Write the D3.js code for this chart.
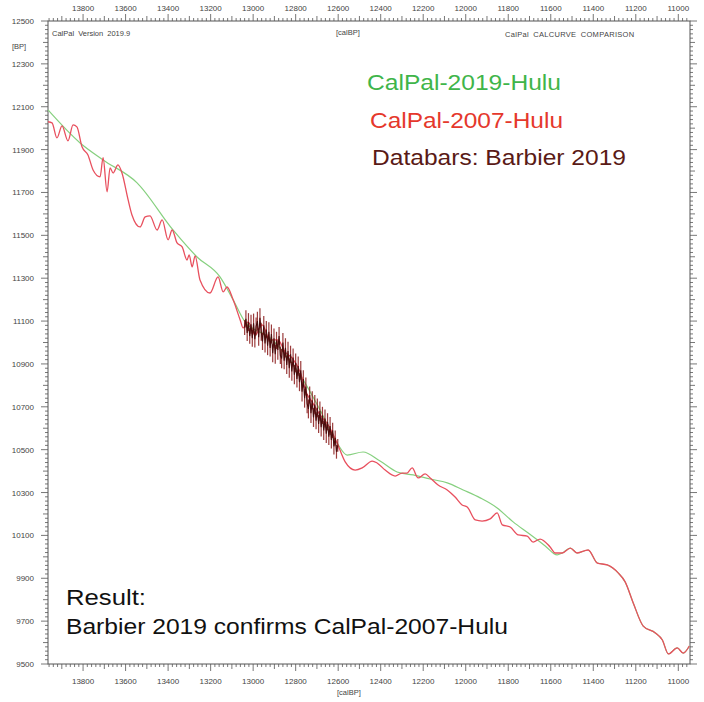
<!DOCTYPE html>
<html><head><meta charset="utf-8">
<script src="https://cdn.jsdelivr.net/npm/d3@7"></script>
<style>body{margin:0;background:#fff}svg{display:block}text{font-family:"Liberation Sans",Arial,sans-serif}</style>
</head><body>
<svg id="c" width="704" height="702"></svg>
<script>
// CalPal-2007-Hulu [calBP, BP]
const red2007 = [[13965,12030],[13946,12025],[13923,11955],[13899,12011],[13871,11941],[13847,12015],[13829,12006],[13805,11913],[13777,11875],[13753,11805],[13720,11773],[13706,11862],[13687,11703],[13673,11815],[13659,11791],[13636,11829],[13617,11791],[13588,11665],[13570,11595],[13532,11539],[13508,11586],[13485,11591],[13452,11525],[13428,11572],[13400,11479],[13381,11525],[13358,11465],[13334,11446],[13311,11385],[13301,11409],[13287,11353],[13273,11404],[13250,11292],[13203,11231],[13165,11306],[13141,11236],[13123,11259],[13094,11199],[13061,11105],[13047,11068],[13024,11096],[12991,11035],[12958,11082],[12920,11012],[12883,11012],[12850,10956],[12817,10928],[12779,10863],[12751,10769],[12723,10723],[12685,10662],[12647,10615],[12605,10531],[12567,10443],[12520,10405],[12487,10415],[12440,10447],[12417,10438],[12379,10405],[12332,10377],[12299,10391],[12276,10391],[12252,10415],[12224,10368],[12191,10387],[12167,10368],[12130,10335],[12087,10312],[12050,10279],[12017,10242],[11993,10233],[11955,10172],[11923,10167],[11885,10177],[11852,10205],[11828,10149],[11791,10139],[11753,10102],[11711,10097],[11683,10069],[11650,10083],[11603,10046],[11579,10018],[11546,10018],[11508,10041],[11476,10018],[11424,10032],[11381,9971],[11334,9962],[11283,9925],[11250,9883],[11212,9785],[11165,9677],[11108,9645],[11075,9612],[11047,9547],[11005,9575],[10977,9551],[10948,9584]];
// CalPal-2019-Hulu [calBP, BP]
const green2019 = [[13965,12085],[13814,11931],[13706,11852],[13546,11745],[13377,11525],[13264,11399],[13156,11306],[13094,11199],[13038,11096],[12920,11021],[12779,10849],[12685,10685],[12605,10531],[12558,10475],[12483,10489],[12403,10447],[12323,10396],[12247,10382],[12167,10363],[12087,10345],[12012,10312],[11932,10275],[11852,10228],[11777,10163],[11706,10111],[11626,10051],[11570,10009],[11546,10018],[11508,10041],[11476,10018],[11424,10032],[11381,9971],[11334,9962],[11283,9925],[11250,9883],[11212,9785],[11165,9677],[11108,9645],[11075,9612],[11047,9547],[11005,9575],[10977,9551],[10948,9584]];
// Databars: Barbier 2019
const dbCalBP = [13040,13034,13028,13022,13016,13010,13004,12998,12992,12986,12980,12974,12968,12962,12956,12950,12944,12938,12932,12926,12920,12914,12908,12902,12896,12890,12884,12878,12872,12866,12860,12854,12848,12842,12836,12830,12824,12818,12812,12806,12800,12794,12788,12782,12776,12770,12764,12758,12752,12746,12740,12734,12728,12722,12716,12710,12704,12698,12692,12686,12680,12674,12668,12662,12656,12650,12644,12638,12632,12626,12620,12614,12608,12602];
const dbBP = [11070,11110,11045,11095,11030,11085,11020,11090,11015,11075,11100,11025,11115,11050,11005,11080,10995,11060,10985,11050,10975,11040,10950,11020,10945,11010,10965,11030,10940,10925,11000,10915,10975,10895,10960,10880,10945,10865,10930,10850,10905,10830,10890,10815,10870,10770,10830,10740,10795,10715,10690,10755,10670,10730,10650,10710,10635,10695,10620,10680,10605,10660,10590,10645,10575,10630,10560,10610,10545,10590,10515,10555,10490,10520];
const dbErr = [35,40,38,42,36,44,40,45,38,42,44,40,45,42,40,44,42,40,44,45,40,44,42,45,44,40,45,42,40,45,44,40,45,42,44,45,40,44,42,45,44,40,45,42,44,45,40,44,42,45,44,40,45,42,44,45,40,44,42,45,44,40,45,42,44,40,38,42,40,36,38,35,32,30];
const xTickLabels = [13800,13600,13400,13200,13000,12800,12600,12400,12200,12000,11800,11600,11400,11200,11000];
const yTickLabels = [12500,12300,12100,11900,11700,11500,11300,11100,10900,10700,10500,10300,10100,9900,9700,9500];
const legendItems = ["CalPal-2019-Hulu","CalPal-2007-Hulu","Databars: Barbier 2019"];
const resultLines = ["Result:","Barbier 2019 confirms CalPal-2007-Hulu"];

const svg = d3.select("#c");
const L=48,R=690,T=21,B=664;
const x = d3.scaleLinear().domain([13965,10945]).range([L,R]);
const y = d3.scaleLinear().domain([9500,12500]).range([B,T]);
const axCol="#555", txtCol="#444";

svg.append("rect").attr("x",L).attr("y",T).attr("width",R-L).attr("height",B-T)
  .attr("fill","none").attr("stroke",axCol).attr("stroke-width",1);

const xt = d3.range(10960,13961,20);
function xlen(v){return v%200===0?7:(v%100===0?5:3);}
svg.append("g").selectAll("line").data(xt).join("line")
  .attr("x1",d=>x(d)).attr("x2",d=>x(d)).attr("y1",T).attr("y2",d=>T-xlen(d))
  .attr("stroke",axCol).attr("stroke-width",0.8);
svg.append("g").selectAll("line").data(xt).join("line")
  .attr("x1",d=>x(d)).attr("x2",d=>x(d)).attr("y1",B).attr("y2",d=>B+xlen(d))
  .attr("stroke",axCol).attr("stroke-width",0.8);
const yt = d3.range(9500,12501,20);
function ylen(v){return v%200===100?7:(v%100===0?5:3);}
svg.append("g").selectAll("line").data(yt).join("line")
  .attr("y1",d=>y(d)).attr("y2",d=>y(d)).attr("x1",L).attr("x2",d=>L-ylen(d))
  .attr("stroke",axCol).attr("stroke-width",0.8);
svg.append("g").selectAll("line").data(yt).join("line")
  .attr("y1",d=>y(d)).attr("y2",d=>y(d)).attr("x1",R).attr("x2",d=>R+ylen(d))
  .attr("stroke",axCol).attr("stroke-width",0.8);

const fs=8;
svg.append("g").selectAll("text").data(xTickLabels).join("text")
  .attr("x",d=>x(d)).attr("y",11).attr("text-anchor","middle").attr("font-size",fs).attr("fill",txtCol).text(d=>d);
svg.append("g").selectAll("text").data(xTickLabels).join("text")
  .attr("x",d=>x(d)).attr("y",684).attr("text-anchor","middle").attr("font-size",fs).attr("fill",txtCol).text(d=>d);
svg.append("g").selectAll("text").data(yTickLabels).join("text")
  .attr("x",34).attr("y",d=>y(d)+3).attr("text-anchor","end").attr("font-size",fs).attr("fill",txtCol).text(d=>d);

svg.append("text").attr("x",12).attr("y",49).attr("font-size",7.5).attr("fill",txtCol).text("[BP]");
svg.append("text").attr("x",52).attr("y",36).attr("font-size",7.5).attr("fill",txtCol).attr("word-spacing",2).text("CalPal Version 2019.9");
svg.append("text").attr("x",336).attr("y",35).attr("font-size",7.5).attr("fill",txtCol).text("[calBP]");
svg.append("text").attr("x",505).attr("y",37).attr("font-size",7.5).attr("fill",txtCol).attr("word-spacing",2).attr("letter-spacing",0.3).text("CalPal CALCURVE COMPARISON");
svg.append("text").attr("x",337).attr("y",695).attr("font-size",7.5).attr("fill",txtCol).text("[calBP]");

const line = d3.line().x(d=>x(d[0])).y(d=>y(d[1])).curve(d3.curveMonotoneX);
svg.append("path").datum(green2019).attr("d",line).attr("fill","none").attr("stroke","#86d07f").attr("stroke-width",1.2);
svg.append("path").datum(red2007).attr("d",line).attr("fill","none").attr("stroke","#e8505e").attr("stroke-width",1.3);

const db = dbCalBP.map((c,i)=>({c, b:dbBP[i], e:dbErr[i]}));
svg.append("g").selectAll("line").data(db).join("line")
  .attr("x1",d=>x(d.c)).attr("x2",d=>x(d.c)).attr("y1",d=>y(d.b-d.e)).attr("y2",d=>y(d.b+d.e))
  .attr("stroke","#8a1a1a").attr("stroke-width",1.2).attr("opacity",0.85);
svg.append("path").datum(db).attr("d",d3.line().x(d=>x(d.c)).y(d=>y(d.b)))
  .attr("fill","none").attr("stroke","#4a0c0c").attr("stroke-width",1.1);

const legCol=["#3fb54a","#e5382c","#5a1a16"];
const legX=[367,370,372], legW=[194,193,254];
svg.append("g").selectAll("text").data(legendItems).join("text")
  .attr("x",(d,i)=>legX[i]).attr("y",(d,i)=>90+i*37.5)
  .attr("font-size",22).attr("textLength",(d,i)=>legW[i]).attr("lengthAdjust","spacingAndGlyphs")
  .attr("fill",(d,i)=>legCol[i]).text(d=>d);
const resW=[80,442];
svg.append("g").selectAll("text").data(resultLines).join("text")
  .attr("x",66).attr("y",(d,i)=>605+i*29).attr("font-size",22)
  .attr("textLength",(d,i)=>resW[i]).attr("lengthAdjust","spacingAndGlyphs")
  .attr("fill","#111").text(d=>d);
</script>
</body></html>
